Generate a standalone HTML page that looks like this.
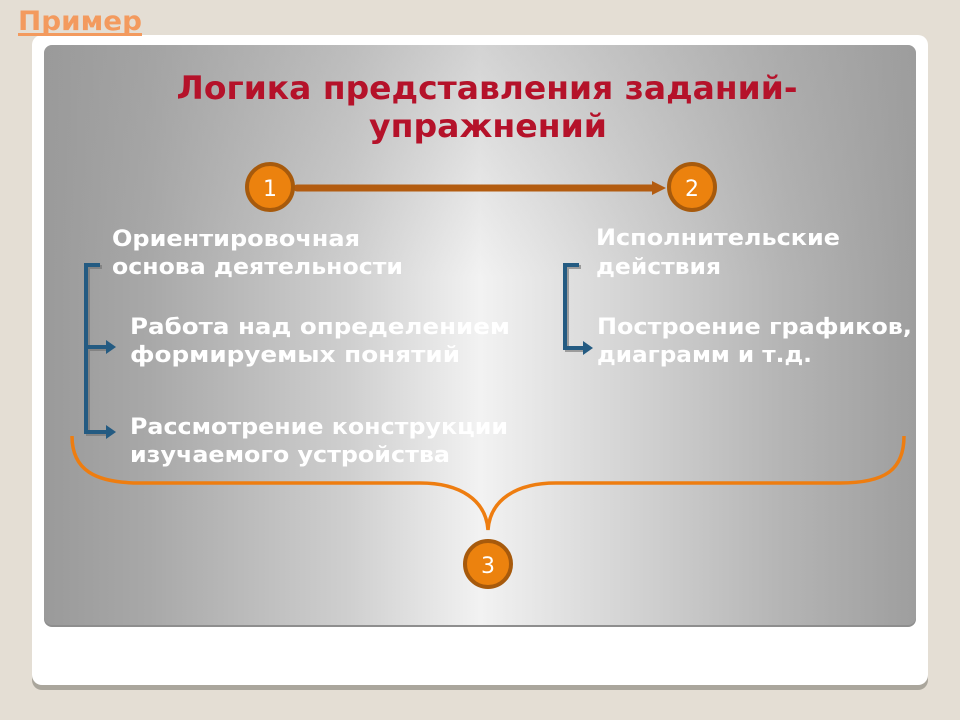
<!DOCTYPE html>
<html><head><meta charset="utf-8"><style>
html,body{margin:0;padding:0;width:960px;height:720px;overflow:hidden;background:#e4ded4}
svg{display:block}
text{font-family:"DejaVu Sans","Liberation Sans",sans-serif;font-weight:bold}
</style></head><body>
<svg width="960" height="720" viewBox="0 0 960 720" xmlns="http://www.w3.org/2000/svg">
<defs>
<linearGradient id="g" x1="0" y1="0" x2="1" y2="0">
<stop offset="0" stop-color="#9a9a9a"/>
<stop offset="0.12" stop-color="#a8a8a8"/>
<stop offset="0.35" stop-color="#cfcfcf"/>
<stop offset="0.5" stop-color="#f2f2f2"/>
<stop offset="0.6" stop-color="#e0e0e0"/>
<stop offset="0.85" stop-color="#b4b4b4"/>
<stop offset="1" stop-color="#9e9e9e"/>
</linearGradient>
<linearGradient id="gv" x1="0" y1="0" x2="0" y2="1">
<stop offset="0" stop-color="#9a9a9a" stop-opacity="0.35"/>
<stop offset="0.4" stop-color="#9a9a9a" stop-opacity="0"/>
</linearGradient>
</defs>
<rect x="32" y="40" width="896" height="650" rx="10" fill="#aaa69c"/>
<rect x="32" y="35" width="896" height="650" rx="10" fill="#fff"/>
<rect x="44" y="47" width="872" height="580" rx="8" fill="#8e8e8e"/>
<rect x="44" y="45" width="872" height="580" rx="8" fill="url(#g)"/>
<rect x="44" y="45" width="872" height="580" rx="8" fill="url(#gv)"/>
<text x="18" y="30" font-size="27" fill="#f39a5e" textLength="124" lengthAdjust="spacingAndGlyphs">Пример</text>
<rect x="18" y="33" width="124" height="3" fill="#f39a5e"/>
<text x="487" y="99" font-size="32" fill="#b5122a" text-anchor="middle" textLength="621" lengthAdjust="spacingAndGlyphs">Логика представления заданий-</text>
<text x="488" y="137" font-size="32" fill="#b5122a" text-anchor="middle" textLength="238" lengthAdjust="spacingAndGlyphs">упражнений</text>
<line x1="297" y1="188" x2="656" y2="188" stroke="#b35c10" stroke-width="7" stroke-linecap="round"/>
<polygon points="652,181 666,188 652,195" fill="#b35c10"/>
<circle cx="270" cy="187" r="23" fill="#ec820e" stroke="#a75a0c" stroke-width="4"/>
<text x="270" y="196" font-size="22" fill="#fff" text-anchor="middle" style="font-weight:normal">1</text>
<circle cx="692" cy="187" r="23" fill="#ec820e" stroke="#a75a0c" stroke-width="4"/>
<text x="692" y="196" font-size="22" fill="#fff" text-anchor="middle" style="font-weight:normal">2</text>
<g fill="#fff" font-size="22">
<text x="112" y="246" textLength="248" lengthAdjust="spacingAndGlyphs">Ориентировочная</text>
<text x="112" y="274" textLength="291" lengthAdjust="spacingAndGlyphs">основа деятельности</text>
<text x="130" y="334" textLength="380" lengthAdjust="spacingAndGlyphs">Работа над определением</text>
<text x="130" y="362" textLength="330" lengthAdjust="spacingAndGlyphs">формируемых понятий</text>
<text x="130" y="434" textLength="378" lengthAdjust="spacingAndGlyphs">Рассмотрение конструкции</text>
<text x="130" y="462" textLength="320" lengthAdjust="spacingAndGlyphs">изучаемого устройства</text>
<text x="596" y="245" textLength="244" lengthAdjust="spacingAndGlyphs">Исполнительские</text>
<text x="596" y="274" textLength="125" lengthAdjust="spacingAndGlyphs">действия</text>
<text x="597" y="334" textLength="315" lengthAdjust="spacingAndGlyphs">Построение графиков,</text>
<text x="597" y="362" textLength="215" lengthAdjust="spacingAndGlyphs">диаграмм и т.д.</text>
</g>
<g stroke="#6f6f6f" stroke-width="4" fill="none" opacity="0.6" transform="translate(2,2)">
<path d="M100 265 H86 V432 H108 M86 347 H108"/>
<path d="M579 265 H565 V348 H585"/>
</g>
<g stroke="#245b82" stroke-width="4" fill="none">
<path d="M100 265 H86 V432 H108 M86 347 H108"/>
<path d="M579 265 H565 V348 H585"/>
</g>
<g fill="#245b82">
<polygon points="106,340 116,347 106,354"/>
<polygon points="106,425 116,432 106,439"/>
<polygon points="583,341 593,348 583,355"/>
</g>
<path d="M72 436 C72 470 95 483 140 483 H420 C460 483 486 500 488 530 C490 500 516 483 556 483 H840 C885 483 904 470 904 436" fill="none" stroke="#ee7d10" stroke-width="3.5"/>
<circle cx="488" cy="564" r="23" fill="#ec820e" stroke="#a75a0c" stroke-width="4"/>
<text x="488" y="573" font-size="22" fill="#fff" text-anchor="middle" style="font-weight:normal">3</text>
</svg>
</body></html>
